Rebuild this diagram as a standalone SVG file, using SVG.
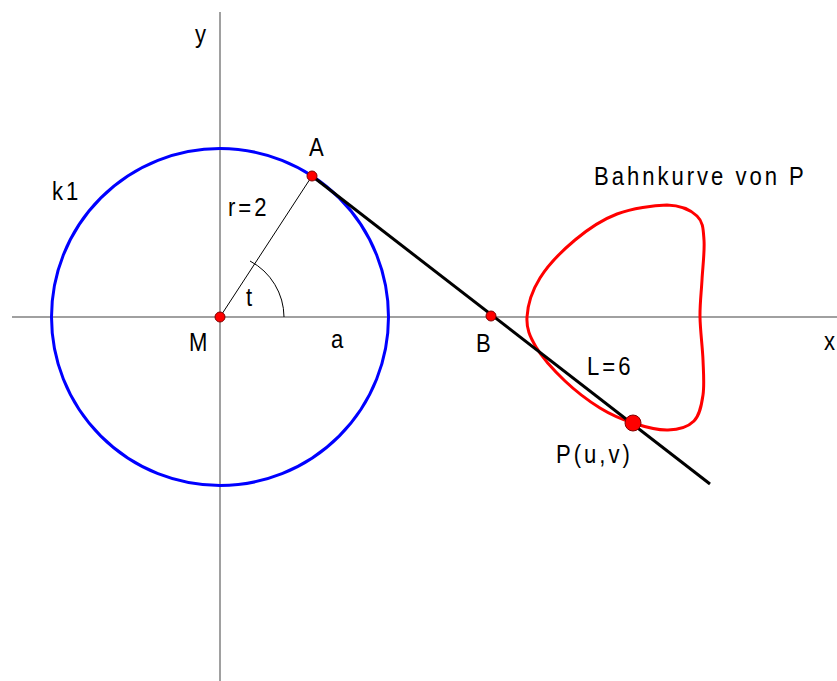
<svg xmlns="http://www.w3.org/2000/svg" width="837" height="681" viewBox="0 0 837 681">
<style>
.ax{stroke:#808080;stroke-width:1.5;fill:none}
.lbl{font-family:"Liberation Sans",Arial,sans-serif;font-size:26px;fill:#000;letter-spacing:3.5px}
.pt{fill:#ff0000;stroke:#800000;stroke-width:1}
</style>
<rect width="837" height="681" fill="#fff"/>
<g id="axes">
<line class="ax" x1="12" y1="317" x2="837" y2="317"/>
<line class="ax" x1="220" y1="12" x2="220" y2="681"/>
</g>
<g id="k1"><circle cx="220" cy="317" r="168.5" fill="none" stroke="#0000ff" stroke-width="3"/></g>
<g id="bahnkurve"><path fill="none" stroke="#ff0000" stroke-width="3" d="M667,205 C680.3,205.3 690.8,210.2 697,216 C703.2,221.8 703.2,229.3 704,240 C704.8,250.7 702.7,267.2 702,280 C701.3,292.8 699.8,303.7 700,317 C700.2,330.3 702.5,347 703,360 C703.5,373 704.5,384.8 703,395 C701.5,405.2 699.8,415.2 694,421 C688.2,426.8 678.2,429.7 668,430 C657.8,430.3 644.3,426.7 633,423 C621.7,419.3 611.3,415 600,408 C588.7,401 575.7,391.2 565,381 C554.3,370.8 542.3,357.7 536,347 C529.7,336.3 526.3,328.5 527,317 C527.7,305.5 532,290.8 540,278 C548,265.2 562.2,250.7 575,240 C587.8,229.3 601.7,219.8 617,214 C632.3,208.2 653.7,205.3 667,205 Z"/></g>
<g id="connectors">
<line x1="220" y1="317" x2="312" y2="176" stroke="#000" stroke-width="1"/>
<path d="M284,317 A64,64 0 0 0 250,261" fill="none" stroke="#000" stroke-width="1"/>
<line x1="312" y1="176" x2="710" y2="484" stroke="#000" stroke-width="3"/>
</g>
<g id="M"><circle class="pt" cx="220" cy="317" r="5"/></g>
<g id="A"><circle class="pt" cx="312" cy="176" r="5"/></g>
<g id="B"><circle class="pt" cx="491" cy="316" r="5"/></g>
<g id="P"><circle class="pt" cx="633" cy="423" r="8"/></g>
<g id="labels">
<text class="lbl" transform="translate(195,43) scale(0.85,1)">y</text>
<text class="lbl" transform="translate(309,156) scale(0.85,1)">A</text>
<text class="lbl" transform="translate(52,200) scale(0.85,1)">k1</text>
<text class="lbl" transform="translate(228,216) scale(0.85,1)">r=2</text>
<text class="lbl" transform="translate(246,306) scale(0.85,1)">t</text>
<text class="lbl" transform="translate(189,351) scale(0.85,1)">M</text>
<text class="lbl" transform="translate(331,348) scale(0.85,1)">a</text>
<text class="lbl" transform="translate(476,352) scale(0.85,1)">B</text>
<text class="lbl" style="letter-spacing:0" transform="translate(824,350) scale(0.85,1)">x</text>
<text class="lbl" transform="translate(587,375) scale(0.85,1)">L=6</text>
<text class="lbl" transform="translate(556,463) scale(0.85,1)">P(u,v)</text>
<text class="lbl" transform="translate(594,185) scale(0.85,1)">Bahnkurve von P</text>
</g>
</svg>
